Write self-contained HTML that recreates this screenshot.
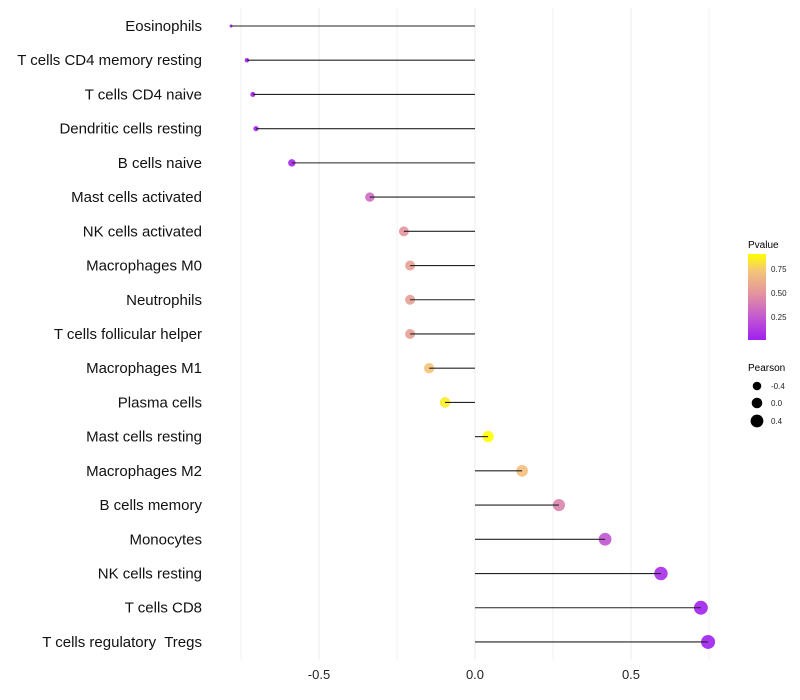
<!DOCTYPE html>
<html><head><meta charset="utf-8"><style>
body{margin:0;background:#fff}
svg{display:block;font-family:"Liberation Sans",sans-serif}
</style></head><body>
<svg id="c" width="800" height="700">
<defs><linearGradient id="pg" x1="0" y1="1" x2="0" y2="0">
<stop offset="0" stop-color="#a020f0"/><stop offset="0.3" stop-color="#c860cc"/>
<stop offset="0.55" stop-color="#e4969c"/><stop offset="0.8" stop-color="#f4c47a"/>
<stop offset="1" stop-color="#ffff00"/></linearGradient></defs>
<g id="grid"></g><g id="marks"></g><g id="labels"></g>
<g>
<text x="748" y="248" font-size="10" fill="#000">Pvalue</text>
<rect x="748" y="254" width="18" height="86" fill="url(#pg)"/>
<text x="771" y="272" font-size="8" fill="#222">0.75</text>
<text x="771" y="296" font-size="8" fill="#222">0.50</text>
<text x="771" y="320" font-size="8" fill="#222">0.25</text>
</g>
<g>
<text x="748" y="371" font-size="10" fill="#000">Pearson</text>
<circle cx="757" cy="386" r="4.3" fill="#000"/><text x="771" y="389" font-size="8" fill="#222">-0.4</text>
<circle cx="757" cy="403" r="5.3" fill="#000"/><text x="771" y="406" font-size="8" fill="#222">0.0</text>
<circle cx="757" cy="421" r="6.4" fill="#000"/><text x="771" y="424" font-size="8" fill="#222">0.4</text>
</g>
</svg>
<script>
const categories=["Eosinophils","T cells CD4 memory resting","T cells CD4 naive","Dendritic cells resting","B cells naive","Mast cells activated","NK cells activated","Macrophages M0","Neutrophils","T cells follicular helper","Macrophages M1","Plasma cells","Mast cells resting","Macrophages M2","B cells memory","Monocytes","NK cells resting","T cells CD8","T cells regulatory\u00a0 Tregs"];
const pearson=[-0.782,-0.731,-0.712,-0.702,-0.587,-0.337,-0.228,-0.208,-0.208,-0.208,-0.147,-0.096,0.042,0.151,0.269,0.417,0.596,0.724,0.747];
const pvalues=[0.0,0.0,0.0,0.0,0.02,0.32,0.5,0.55,0.55,0.55,0.72,0.85,0.92,0.7,0.42,0.22,0.05,0.0,0.0];
const xTicks=[-0.5,0,0.5];
const xTickLabels=["-0.5","0.0","0.5"];
const minorTicks=[-0.75,-0.25,0.25,0.75];
const NS="http://www.w3.org/2000/svg";
const x=v=>475+312*v;
const y=i=>26+i*34.22;
const sk=[[-0.78,2.25],[-0.59,13.7],[-0.34,22],[-0.21,25],[0.75,49]];
function rad(v){if(v<=sk[0][0])return 1.5;for(let i=1;i<sk.length;i++){if(v<=sk[i][0]){const a=sk[i-1],b=sk[i];return Math.sqrt(a[1]+(b[1]-a[1])*(v-a[0])/(b[0]-a[0]));}}return 7;}
function mk(t,a,p){const e=document.createElementNS(NS,t);for(const k in a)e.setAttribute(k,a[k]);p.appendChild(e);return e;}
const stops=[[0,[160,32,240]],[0.27,[200,96,204]],[0.5,[228,150,156]],[0.72,[244,196,122]],[0.91,[255,255,0]]];
function col(p){p=Math.min(0.91,Math.max(0,p));for(let i=1;i<stops.length;i++){if(p<=stops[i][0]){const a=stops[i-1],b=stops[i],t=(p-a[0])/(b[0]-a[0]);return "rgb("+a[1].map((c,j)=>Math.round(c+(b[1][j]-c)*t)).join(",")+")";}}return "rgb(255,255,0)";}
const G=document.getElementById('grid'),M=document.getElementById('marks'),L=document.getElementById('labels');
minorTicks.forEach(t=>{const l=mk('line',{x1:x(t),x2:x(t),y1:8,y2:660,stroke:'#f2f2f2','stroke-width':1},G);

});
xTicks.forEach((t,i)=>{const l=mk('line',{x1:x(t),x2:x(t),y1:8,y2:660,stroke:'#ebebeb','stroke-width':1},G);


const tx=mk('text',{x:x(t),y:679,'text-anchor':'middle','font-size':13,fill:'#222'},L);tx.textContent=xTickLabels[i];

});
categories.forEach((c,i)=>{
const tx=mk('text',{x:202,y:y(i)+5,'text-anchor':'end','font-size':15,fill:'#111'},L);tx.textContent=c;


const pt=mk('circle',{cx:x(pearson[i]),cy:y(i),r:rad(pearson[i]),fill:col(pvalues[i]),'fill-opacity':0.9},M);


const ln=mk('line',{x1:x(0),x2:x(pearson[i]),y1:y(i),y2:y(i),stroke:'#222','stroke-width':1.1},M);


});
</script>
</body></html>
